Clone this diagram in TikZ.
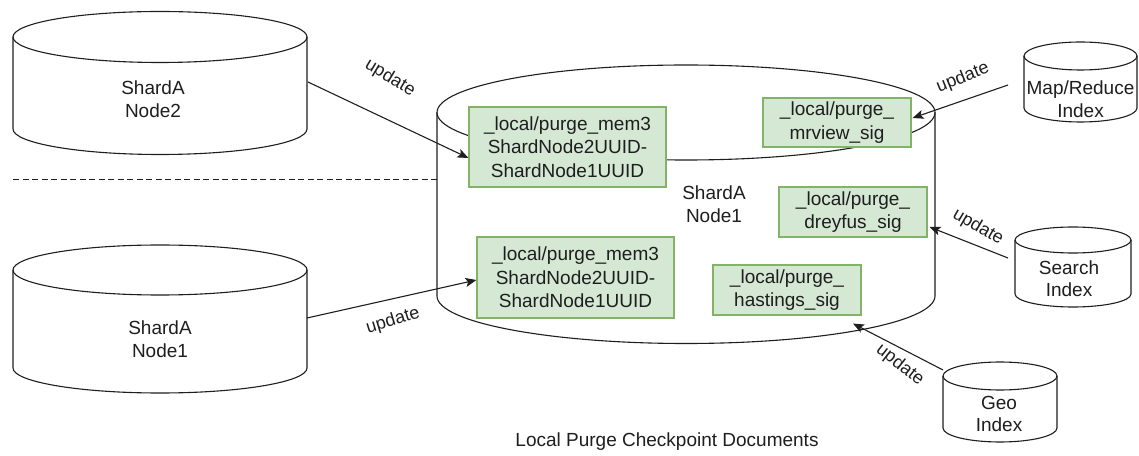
\documentclass[tikz,border=0pt]{standalone}
\usepackage{fontspec}
\setmainfont{Liberation Sans}
\usetikzlibrary{arrows.meta,calc}
\definecolor{gfill}{HTML}{D5E8D4}
\definecolor{gline}{HTML}{82B366}
\definecolor{ink}{HTML}{1E1E1E}
\tikzset{
  outline/.style={line width=1.1pt, draw=ink},
  txt/.style={align=center, text=ink, inner sep=0pt, font=\fontsize{19}{22.5}\selectfont},
  lab/.style={text=ink, inner sep=0pt, font=\fontsize{18}{21}\selectfont},
  doc/.style={draw=gline, fill=gfill, line width=1.1pt, align=center, text=ink, inner sep=0pt,
              font=\fontsize{19}{23.5}\selectfont},
  conn/.style={line width=1.1pt, draw=ink, -{Stealth[length=11pt,width=9pt,inset=2.5pt]}},
}
% cx, topY, botY, rx, ry
\newcommand\drum[5]{%
  \draw[outline, fill=white] (#1-#4,#2) -- (#1-#4,#3)
     arc[start angle=180,end angle=360,x radius=#4,y radius=#5] -- (#1+#4,#2);
  \draw[outline] (#1,#2) ellipse[x radius=#4,y radius=#5];
}
\begin{document}
\begin{tikzpicture}[x=1pt,y=1pt]
\useasboundingbox (0,0) rectangle (1139,455);

% cylinders
\drum{160}{418}{326}{147}{25.5}
\drum{160}{185}{87}{147}{25}
\drum{686}{342.5}{159}{249}{47.5}
\drum{1080.5}{399}{347}{56.5}{14}
\drum{1073}{215}{161}{58}{13}
\drum{1000}{79}{27}{57}{14}

% cylinder texts
\node[txt] (nA) at (153,356) {ShardA\\Node2};
\node[txt] (nB) at (160,116) {ShardA\\Node1};
\node[txt] (nM) at (714,251) {ShardA\\Node1};
\node[txt] (nMR) at (1080.5,356) {Map/Reduce\\Index};
\node[txt] (nS) at (1069,176.5) {Search\\Index};
\node[txt] (nG) at (999,41) {Geo\\Index};

% dashed separator
\coordinate (dL) at (13,275);
\coordinate (dR) at (437,275);
\draw[line width=1pt, draw=ink, dash pattern=on 6pt off 3.5pt] (dL) -- (dR);

% documents
\node[doc, minimum width=197pt, minimum height=80pt] (b1) at (567.5,308) {\_local/purge\_mem3\\ShardNode2UUID-\\ShardNode1UUID};
\node[doc, minimum width=197pt, minimum height=81pt] (b2) at (575.5,177.5) {\_local/purge\_mem3\\ShardNode2UUID-\\ShardNode1UUID};
\node[doc, minimum width=148pt, minimum height=49pt] (b3) at (837,332.5) {\_local/purge\_\\mrview\_sig};
\node[doc, minimum width=148pt, minimum height=50pt] (b4) at (853,243) {\_local/purge\_\\dreyfus\_sig};
\node[doc, minimum width=148pt, minimum height=50pt] (b5) at (787,165) {\_local/purge\_\\hastings\_sig};

% connector ends
\coordinate (tA) at (308,373);
\coordinate (tB) at (307,137);
\coordinate (tMR) at (1008,370);
\coordinate (tS) at (1008,197);
\coordinate (tG) at (943,85);

\draw[conn] (tA) -- ($(b1.west)+(0,-11)$);
\draw[conn] (tB) -- ($(b2.west)+(0,-2.5)$);
\draw[conn] (tMR) -- ($(b3.east)+(1,4.5)$);
\draw[conn] (tS) -- ($(b4.east)+(2,-15)$);
\draw[conn] (tG) -- ($(b5.south)+(66,-8)$);

% labels
\node[lab, rotate=-31] (l1) at (390,377) {update};
\node[lab, rotate=17] (l2) at (393,134) {update};
\node[lab, rotate=22] (l3) at (963,377) {update};
\node[lab, rotate=-30] (l4) at (978,228) {update};
\node[lab, rotate=-38] (l5) at (900,90) {update};

% caption
\node[txt] (cap) at (667,13) {Local Purge Checkpoint Documents};
\end{tikzpicture}
\end{document}
